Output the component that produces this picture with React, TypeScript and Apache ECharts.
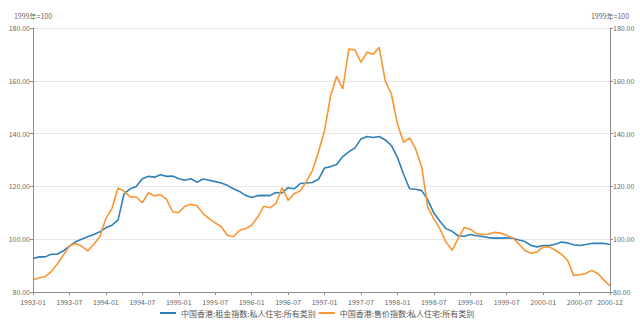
import React, { useEffect, useRef } from "react";
import * as echarts from "echarts";

const startYear = 1993;
const monthCount = 96;
const categories: string[] = [];
for (let k = 0; k < monthCount; k++) {
  const y = startYear + Math.floor(k / 12);
  const m = (k % 12) + 1;
  categories.push(`${y}-${m < 10 ? "0" + m : m}`);
}

const rentName = "中国香港:租金指数:私人住宅:所有类别";
const saleName = "中国香港:售价指数:私人住宅:所有类别";

const rentValues = [
  92.7, 93.3, 93.3, 94.3, 94.3, 95.6, 97.4, 99.0, 100.0, 100.9, 101.8, 102.8,
  104.3, 105.3, 107.2, 117.2, 119.1, 120.0, 122.9, 123.8, 123.5, 124.4, 123.8, 123.9,
  122.9, 122.3, 122.9, 121.6, 122.8, 122.3, 121.8, 121.3, 120.4, 119.1, 118.1, 116.6,
  115.8, 116.5, 116.6, 116.5, 117.7, 117.5, 119.5, 119.1, 121.1, 121.3, 121.5, 122.7,
  127.0, 127.5, 128.3, 131.3, 133.1, 134.6, 138.0, 138.9, 138.5, 138.9, 137.6, 135.5,
  131.0, 124.7, 119.1, 118.9, 118.4, 114.9, 109.9, 106.8, 104.0, 103.0, 101.3, 101.1,
  101.8, 101.3, 101.0, 100.6, 100.4, 100.4, 100.5, 100.4, 99.7, 99.1, 97.6, 97.1,
  97.6, 97.6, 98.1, 98.9, 98.6, 97.9, 97.6, 98.0, 98.4, 98.4, 98.4, 98.0,
];

const saleValues = [
  84.5, 85.4, 85.8, 87.7, 90.6, 94.0, 97.4, 98.4, 97.4, 95.6, 98.1, 100.9,
  107.8, 111.6, 119.4, 118.2, 116.0, 116.0, 113.8, 117.6, 116.4, 116.9, 115.1, 110.3,
  110.1, 112.5, 113.2, 112.7, 109.7, 107.8, 106.2, 104.7, 101.5, 100.9, 103.4, 104.0,
  105.3, 108.4, 112.5, 111.9, 113.5, 119.5, 114.7, 117.2, 118.3, 121.8, 126.0, 133.0,
  141.1, 154.4, 161.7, 156.9, 172.0, 171.7, 167.0, 170.8, 170.1, 172.7, 160.0, 155.0,
  143.7, 136.7, 138.4, 134.2, 127.3, 112.1, 107.7, 103.9, 98.9, 95.8, 100.2, 104.4,
  103.8, 102.1, 101.8, 101.9, 102.6, 102.3, 101.5, 100.5, 98.1, 95.7, 94.7, 95.2,
  97.1, 97.1, 95.8, 94.3, 92.1, 86.3, 86.5, 87.0, 88.2, 87.0, 84.5, 82.3,
];

const yMin = 80;
const yMax = 180;
const yInterval = 20;
const axisName = "1999年=100";

const FONT = "'Noto Sans CJK SC', 'Noto Sans', sans-serif";
const BLUE = "#2f80b6";
const ORANGE = "#f99532";
const AXIS_COLOR = "#8c8c8c";
const LABEL_COLOR = "#666";

export default function App() {
  const ref = useRef<HTMLDivElement>(null);
  useEffect(() => {
    if (!ref.current) return;
    const chart = echarts.init(ref.current, null, { renderer: "svg" });
    const showIdx = (i: number) => i % 6 === 0 || i === monthCount - 1;
    const yAxisCommon = (pos: "left" | "right", grid: boolean) => ({
      type: "value" as const,
      position: pos,
      min: yMin,
      max: yMax,
      interval: yInterval,
      name: axisName,
      nameLocation: "end" as const,
      nameGap: 9,
      nameTextStyle: { fontSize: 7, color: LABEL_COLOR, fontFamily: FONT },
      axisLine: { show: true, lineStyle: { color: AXIS_COLOR, width: 1 } },
      axisTick: { show: true, length: 3, lineStyle: { color: AXIS_COLOR } },
      axisLabel: {
        fontSize: 7,
        lineHeight: 7,
        color: LABEL_COLOR,
        fontFamily: FONT,
        margin: 3,
        formatter: (v: number) => v.toFixed(2),
      },
      splitLine: { show: grid, lineStyle: { color: "#e8e8e8", width: 1 } },
    });
    chart.setOption({
      animation: false,
      backgroundColor: "#fff",
      grid: { left: 33, right: 30, top: 28, bottom: 36, containLabel: false },
      legend: {
        bottom: 6,
        left: 155,
        itemWidth: 16,
        itemHeight: 8,
        itemGap: 3,
        textStyle: { fontSize: 8, color: "#555", fontFamily: FONT },
        data: [
          { name: rentName, icon: "path://M0,4L16,4L16,6L0,6Z" },
          { name: saleName, icon: "path://M0,4L16,4L16,6L0,6Z" },
        ],
      },
      xAxis: {
        type: "category",
        data: categories,
        boundaryGap: false,
        axisLine: { show: true, lineStyle: { color: AXIS_COLOR } },
        axisTick: { show: true, length: 3, interval: (i: number) => showIdx(i), lineStyle: { color: AXIS_COLOR } },
        axisLabel: {
          fontSize: 7,
          lineHeight: 7,
          color: LABEL_COLOR,
          fontFamily: FONT,
          margin: 6,
          interval: (i: number) => showIdx(i),
          hideOverlap: false,
        },
        splitLine: { show: false },
      },
      yAxis: [yAxisCommon("left", true), yAxisCommon("right", false)],
      series: [
        {
          name: rentName,
          type: "line",
          data: rentValues,
          yAxisIndex: 0,
          showSymbol: false,
          symbol: "none",
          lineStyle: { color: BLUE, width: 1.6 },
          itemStyle: { color: BLUE },
        },
        {
          name: saleName,
          type: "line",
          data: saleValues,
          yAxisIndex: 0,
          showSymbol: false,
          symbol: "none",
          lineStyle: { color: ORANGE, width: 1.6 },
          itemStyle: { color: ORANGE },
        },
      ],
    });
    return () => chart.dispose();
  }, []);
  return (
    <div
      ref={ref}
      style={{ position: "fixed", left: 0, top: 0, width: 640, height: 328 }}
    />
  );
}
